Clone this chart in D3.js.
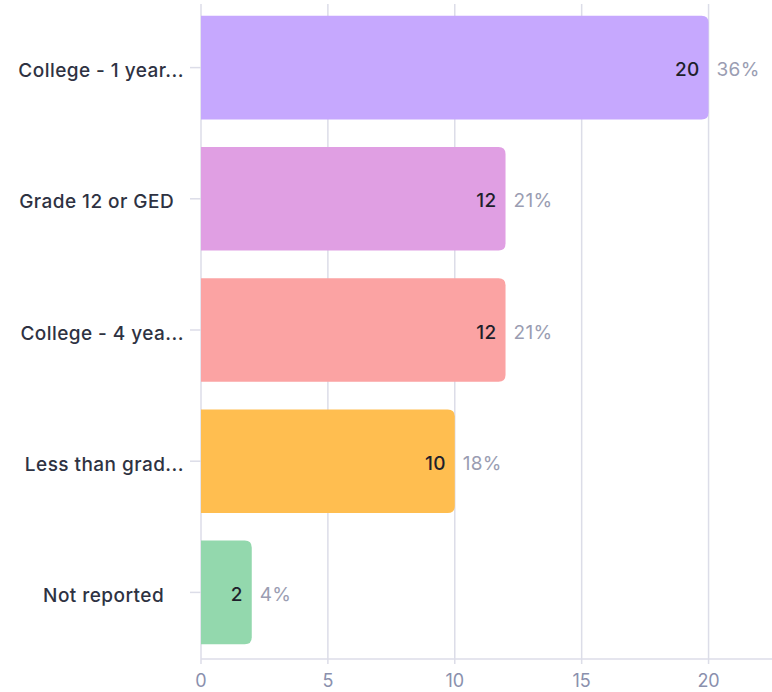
<!DOCTYPE html>
<html>
<head>
<meta charset="utf-8">
<script src="https://cdn.jsdelivr.net/npm/d3@7"></script>
<style>
  html, body { margin: 0; padding: 0; background: #fff; }
  svg { display: block; font-family: "Inter", "Noto Sans", sans-serif; }
  text { white-space: pre; }
</style>
</head>
<body>
<svg id="chart" width="772" height="692"></svg>
<script>
// Education level breakdown
const categories = ["College - 1 year...", "Grade 12 or GED\u2002", "College - 4 yea...", "Less than grad...", "Not reported\u2002\u2002"];
const counts = [20, 12, 12, 10, 2];
const percents = ["36%", "21%", "21%", "18%", "4%"];
const colors = ["#c6a8fe", "#e09fe3", "#fba3a3", "#ffbe50", "#93d8ad"];
const xTicks = [0, 5, 10, 15, 20];

const svg = d3.select("#chart");
const margin = { left: 201, right: 0, top: 2, bottom: 34 };
const W = 772, H = 692;

const x = d3.scaleLinear().domain([0, 22.5]).range([margin.left, W - margin.right]);
const y = d3.scaleBand().domain(categories).range([margin.top, H - margin.bottom]).paddingInner(0.21).paddingOuter(0.105);

const gridColor = "#dcdde8";
const axisY = H - margin.bottom + 1;
const fs = 19;

// vertical gridlines
svg.append("g").selectAll("line").data(xTicks).join("line")
  .attr("x1", d => x(d)).attr("x2", d => x(d))
  .attr("y1", 4).attr("y2", axisY + 5)
  .attr("stroke", gridColor).attr("stroke-width", 1.5);

// x axis baseline
svg.append("line")
  .attr("x1", x(0)).attr("x2", W)
  .attr("y1", axisY).attr("y2", axisY)
  .attr("stroke", gridColor).attr("stroke-width", 1.5);

// x tick labels
svg.append("g").selectAll("text").data(xTicks).join("text")
  .attr("x", d => x(d)).attr("y", axisY + 27.5)
  .attr("text-anchor", "middle")
  .attr("fill", "#8a90ad").attr("font-size", 18)
  .text(d => d);

// category ticks and labels
const rows = categories.map((c, i) => ({ c, v: counts[i], p: percents[i], color: colors[i] }));
const cy = d => y(d.c) + y.bandwidth() / 2;

svg.append("g").selectAll("line").data(rows).join("line")
  .attr("x1", 190).attr("x2", x(0))
  .attr("y1", cy).attr("y2", cy)
  .attr("stroke", gridColor).attr("stroke-width", 1.5);

svg.append("g").selectAll("text").data(rows).join("text")
  .attr("x", 184).attr("y", cy).attr("dy", "0.5em")
  .attr("text-anchor", "end")
  .attr("fill", "#2e3242").attr("font-size", fs).attr("font-weight", 500)
  .attr("letter-spacing", 0.45)
  .text(d => d.c);

// bars: square on the left, rounded on the right
const r = 7;
function barPath(d) {
  const x0 = x(0), x1 = x(d.v), y0 = y(d.c), y1 = y0 + y.bandwidth();
  const rr = Math.min(r, (x1 - x0));
  return `M${x0},${y0}H${x1 - rr}Q${x1},${y0} ${x1},${y0 + rr}V${y1 - rr}Q${x1},${y1} ${x1 - rr},${y1}H${x0}Z`;
}
svg.append("g").selectAll("path").data(rows).join("path")
  .attr("d", barPath)
  .attr("fill", d => d.color);

// value labels inside bar ends
svg.append("g").selectAll("text").data(rows).join("text")
  .attr("x", d => x(d.v) - 9).attr("y", cy).attr("dy", "0.45em")
  .attr("text-anchor", "end")
  .attr("fill", "#1e1f2b").attr("font-size", fs).attr("font-weight", 500)
  .attr("letter-spacing", 0.3)
  .text(d => d.v);

// percentage labels after bars
svg.append("g").selectAll("text").data(rows).join("text")
  .attr("x", d => x(d.v) + 8).attr("y", cy).attr("dy", "0.45em")
  .attr("fill", "#9a9db2").attr("font-size", fs)
  .attr("letter-spacing", 0.3)
  .text(d => d.p);
</script>
</body>
</html>
